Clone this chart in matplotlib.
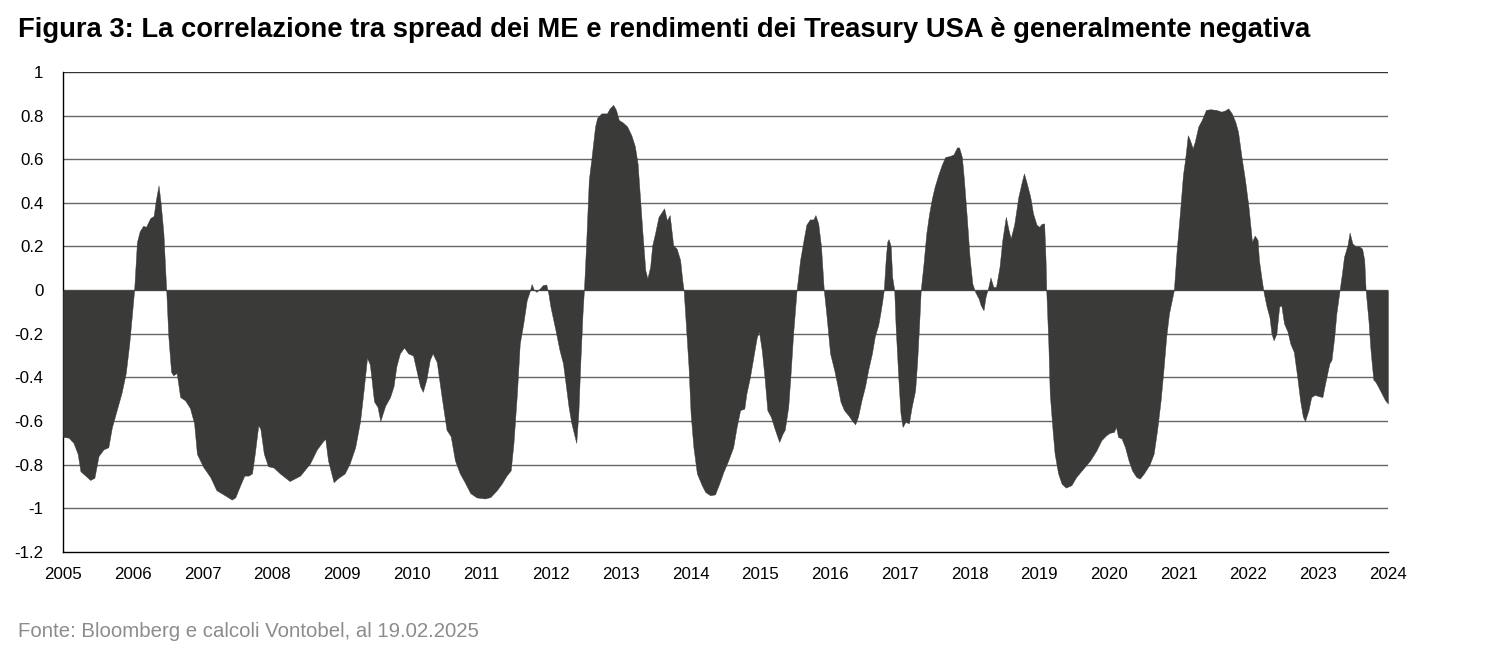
import matplotlib
matplotlib.use('Agg')
import matplotlib.pyplot as plt
import numpy as np

# ── Data ────────────────────────────────────────────────────────────────────
years = [
    2005.00, 2005.08, 2005.15, 2005.21, 2005.25, 2005.32, 2005.39, 2005.45, 2005.51, 2005.58,
    2005.65, 2005.70, 2005.77, 2005.84, 2005.90, 2005.95, 2005.99, 2006.02, 2006.06, 2006.10,
    2006.15, 2006.19, 2006.25, 2006.30, 2006.33, 2006.37, 2006.40, 2006.44, 2006.48, 2006.51,
    2006.55, 2006.58, 2006.63, 2006.68, 2006.75, 2006.82, 2006.88, 2006.92, 2007.01, 2007.11,
    2007.20, 2007.32, 2007.42, 2007.47, 2007.54, 2007.60, 2007.66, 2007.71, 2007.75, 2007.80,
    2007.83, 2007.88, 2007.94, 2008.02, 2008.11, 2008.25, 2008.40, 2008.54, 2008.64, 2008.71,
    2008.76, 2008.80, 2008.88, 2008.95, 2009.04, 2009.11, 2009.19, 2009.26, 2009.31, 2009.36,
    2009.40, 2009.46, 2009.51, 2009.55, 2009.62, 2009.69, 2009.74, 2009.78, 2009.83, 2009.89,
    2009.95, 2010.02, 2010.07, 2010.12, 2010.16, 2010.21, 2010.26, 2010.30, 2010.36, 2010.43,
    2010.50, 2010.56, 2010.62, 2010.69, 2010.76, 2010.84, 2010.93, 2011.05, 2011.13, 2011.22,
    2011.29, 2011.36, 2011.42, 2011.46, 2011.51, 2011.55, 2011.60, 2011.65, 2011.69, 2011.72,
    2011.75, 2011.79, 2011.84, 2011.88, 2011.93, 2011.96, 2011.99, 2012.06, 2012.12, 2012.17,
    2012.20, 2012.25, 2012.29, 2012.36, 2012.39, 2012.42, 2012.45, 2012.47, 2012.50, 2012.54,
    2012.58, 2012.63, 2012.66, 2012.72, 2012.80, 2012.84, 2012.89, 2012.93, 2012.97, 2013.03,
    2013.09, 2013.15, 2013.20, 2013.24, 2013.27, 2013.31, 2013.35, 2013.38, 2013.42, 2013.45,
    2013.49, 2013.54, 2013.59, 2013.62, 2013.66, 2013.70, 2013.75, 2013.80, 2013.85, 2013.88,
    2013.90, 2013.94, 2013.97, 2014.00, 2014.04, 2014.09, 2014.16, 2014.21, 2014.28, 2014.35,
    2014.41, 2014.47, 2014.54, 2014.61, 2014.66, 2014.71, 2014.77, 2014.80, 2014.85, 2014.90,
    2014.95, 2014.98, 2015.02, 2015.06, 2015.10, 2015.15, 2015.21, 2015.27, 2015.32, 2015.35,
    2015.40, 2015.43, 2015.47, 2015.52, 2015.57, 2015.62, 2015.66, 2015.71, 2015.76, 2015.79,
    2015.83, 2015.87, 2015.91, 2015.95, 2016.00, 2016.06, 2016.10, 2016.15, 2016.20, 2016.26,
    2016.31, 2016.36, 2016.40, 2016.45, 2016.50, 2016.55, 2016.60, 2016.64, 2016.69, 2016.72,
    2016.75, 2016.77, 2016.80, 2016.82, 2016.84, 2016.87, 2016.89, 2016.92, 2016.94, 2016.98,
    2017.01, 2017.04, 2017.08, 2017.13, 2017.17, 2017.22, 2017.25, 2017.28, 2017.30, 2017.34,
    2017.38, 2017.42, 2017.46, 2017.50, 2017.55, 2017.60, 2017.65, 2017.72, 2017.77, 2017.82,
    2017.85, 2017.89, 2017.92, 2017.96, 2018.00, 2018.04, 2018.08, 2018.13, 2018.16, 2018.20,
    2018.23, 2018.27, 2018.30, 2018.34, 2018.38, 2018.43, 2018.47, 2018.52, 2018.56, 2018.59,
    2018.64, 2018.70, 2018.75, 2018.78, 2018.82, 2018.87, 2018.91, 2018.96, 2019.00, 2019.03,
    2019.07, 2019.09, 2019.10, 2019.13, 2019.15, 2019.19, 2019.22, 2019.27, 2019.32, 2019.38,
    2019.46, 2019.53, 2019.63, 2019.73, 2019.82, 2019.89, 2019.96, 2020.01, 2020.07, 2020.10,
    2020.13, 2020.18, 2020.23, 2020.28, 2020.33, 2020.39, 2020.44, 2020.50, 2020.58, 2020.64,
    2020.69, 2020.74, 2020.78, 2020.82, 2020.86, 2020.90, 2020.93, 2020.97, 2021.02, 2021.06,
    2021.09, 2021.13, 2021.16, 2021.20, 2021.23, 2021.28, 2021.33, 2021.39, 2021.45, 2021.54,
    2021.61, 2021.66, 2021.71, 2021.76, 2021.81, 2021.85, 2021.90, 2021.95, 2022.00, 2022.05,
    2022.09, 2022.13, 2022.15, 2022.19, 2022.22, 2022.26, 2022.30, 2022.33, 2022.36, 2022.40,
    2022.44, 2022.47, 2022.51, 2022.56, 2022.60, 2022.65, 2022.70, 2022.74, 2022.78, 2022.81,
    2022.86, 2022.90, 2022.95, 2023.01, 2023.06, 2023.11, 2023.16, 2023.19, 2023.23, 2023.26,
    2023.30, 2023.34, 2023.37, 2023.42, 2023.45, 2023.49, 2023.54, 2023.59, 2023.63, 2023.66,
    2023.68, 2023.72, 2023.75, 2023.79, 2023.82, 2023.86, 2023.91, 2023.96, 2024.00,
]

corr = [
    -0.673, -0.676, -0.70, -0.75, -0.83, -0.85, -0.87, -0.86, -0.76, -0.73,
    -0.72, -0.63, -0.55, -0.47, -0.38, -0.245, -0.107, 0.0, 0.22, 0.27,
    0.295, 0.29, 0.33, 0.34, 0.41, 0.48, 0.40, 0.26, 0.0, -0.21,
    -0.375, -0.39, -0.38, -0.49, -0.505, -0.54, -0.61, -0.75, -0.81, -0.856,
    -0.917, -0.94, -0.96, -0.95, -0.895, -0.85, -0.85, -0.84, -0.75, -0.62,
    -0.635, -0.75, -0.807, -0.813, -0.84, -0.875, -0.85, -0.795, -0.73, -0.70,
    -0.68, -0.78, -0.88, -0.86, -0.84, -0.795, -0.72, -0.60, -0.46, -0.31,
    -0.34, -0.51, -0.535, -0.60, -0.53, -0.49, -0.44, -0.35, -0.29, -0.263,
    -0.29, -0.30, -0.37, -0.44, -0.466, -0.41, -0.32, -0.29, -0.33, -0.49,
    -0.64, -0.67, -0.78, -0.84, -0.88, -0.93, -0.95, -0.955, -0.948, -0.917,
    -0.887, -0.85, -0.826, -0.70, -0.47, -0.245, -0.153, -0.046, -0.008, 0.028,
    0.003, -0.008, 0.008, 0.023, 0.026, -0.015, -0.076, -0.18, -0.275, -0.336,
    -0.41, -0.535, -0.61, -0.70, -0.566, -0.32, -0.107, 0.0, 0.20, 0.505,
    0.61, 0.75, 0.79, 0.81, 0.81, 0.833, 0.849, 0.826, 0.78, 0.768,
    0.75, 0.71, 0.66, 0.58, 0.443, 0.26, 0.092, 0.054, 0.107, 0.206,
    0.26, 0.336, 0.36, 0.375, 0.32, 0.344, 0.206, 0.19, 0.138, 0.046,
    0.0, -0.20, -0.35, -0.566, -0.72, -0.84, -0.894, -0.925, -0.94, -0.936,
    -0.887, -0.833, -0.78, -0.72, -0.627, -0.55, -0.543, -0.474, -0.40, -0.306,
    -0.214, -0.19, -0.275, -0.40, -0.55, -0.58, -0.64, -0.696, -0.657, -0.64,
    -0.535, -0.40, -0.20, 0.0, 0.138, 0.23, 0.30, 0.324, 0.324, 0.344,
    0.306, 0.20, 0.0, -0.122, -0.29, -0.367, -0.428, -0.512, -0.55, -0.573,
    -0.596, -0.615, -0.58, -0.505, -0.443, -0.36, -0.29, -0.214, -0.16, -0.107,
    -0.046, 0.0, 0.153, 0.222, 0.234, 0.20, 0.061, 0.0, -0.168, -0.41,
    -0.566, -0.627, -0.604, -0.61, -0.535, -0.459, -0.32, -0.138, 0.0, 0.122,
    0.26, 0.35, 0.42, 0.474, 0.527, 0.573, 0.61, 0.615, 0.622, 0.654,
    0.654, 0.61, 0.505, 0.336, 0.153, 0.03, -0.008, -0.038, -0.069, -0.092,
    -0.03, 0.015, 0.058, 0.015, 0.015, 0.107, 0.23, 0.336, 0.275, 0.237,
    0.30, 0.428, 0.497, 0.535, 0.49, 0.428, 0.352, 0.30, 0.29, 0.303,
    0.306, 0.138, 0.0, -0.245, -0.474, -0.64, -0.75, -0.84, -0.887, -0.905,
    -0.894, -0.856, -0.818, -0.78, -0.734, -0.688, -0.665, -0.654, -0.65, -0.627,
    -0.673, -0.68, -0.72, -0.78, -0.826, -0.856, -0.864, -0.84, -0.80, -0.75,
    -0.64, -0.505, -0.367, -0.214, -0.107, -0.046, 0.0, 0.183, 0.367, 0.528,
    0.596, 0.71, 0.688, 0.65, 0.68, 0.75, 0.78, 0.826, 0.829, 0.826,
    0.818, 0.823, 0.833, 0.81, 0.772, 0.726, 0.61, 0.505, 0.382, 0.222,
    0.25, 0.23, 0.138, 0.046, -0.015, -0.076, -0.122, -0.20, -0.23, -0.20,
    -0.076, -0.069, -0.153, -0.19, -0.245, -0.283, -0.40, -0.505, -0.58, -0.60,
    -0.55, -0.49, -0.48, -0.486, -0.49, -0.41, -0.336, -0.32, -0.214, -0.107,
    -0.015, 0.076, 0.153, 0.206, 0.264, 0.214, 0.20, 0.20, 0.19, 0.138,
    0.0, -0.138, -0.275, -0.41, -0.42, -0.443, -0.474, -0.505, -0.52,
]

x_ticks = list(range(2005, 2025))
y_ticks = [1, 0.8, 0.6, 0.4, 0.2, 0, -0.2, -0.4, -0.6, -0.8, -1, -1.2]
y_labels = ["1", "0.8", "0.6", "0.4", "0.2", "0", "-0.2", "-0.4", "-0.6", "-0.8", "-1", "-1.2"]

TITLE = "Figura 3: La correlazione tra spread dei ME e rendimenti dei Treasury USA è generalmente negativa"
SOURCE = "Fonte: Bloomberg e calcoli Vontobel, al 19.02.2025"

# ── Style ──────────────────────────────────────────────────────────────────
FILL_C = "#3a3b39"
GRID_C = "#666666"

plt.rcParams.update({
    "font.family": ["Liberation Sans", "DejaVu Sans"],
    "font.size": 12,
})

fig = plt.figure(figsize=(15, 6.54), dpi=100)
ax = fig.add_axes([0.042, 0.156, 0.8833, 0.734])

ax.fill_between(years, corr, 0, color=FILL_C, lw=0.3, edgecolor=FILL_C, zorder=3)

ax.set_xlim(2005, 2024)
ax.set_ylim(-1.2, 1)
ax.set_xticks(x_ticks)
ax.set_xticklabels([str(y) for y in x_ticks])
ax.set_yticks(y_ticks)
ax.set_yticklabels(y_labels)
ax.tick_params(axis='both', length=0, labelsize=12.2, colors='black')
ax.tick_params(axis='y', pad=14)
ax.tick_params(axis='x', pad=11)

for v in y_ticks[:-1]:
    ax.axhline(v, color=GRID_C if v != 1 else "#333333", lw=1.0, zorder=1)

ax.spines['right'].set_visible(False)
ax.spines['top'].set_visible(False)
ax.spines['left'].set_color('black')
ax.spines['bottom'].set_color('black')
ax.spines['left'].set_linewidth(1.0)
ax.spines['bottom'].set_linewidth(1.0)

fig.text(0.012, 0.943, TITLE, fontsize=19.75, fontweight='bold', ha='left', va='baseline')
fig.text(0.012, 0.026, SOURCE, fontsize=14.7, color='#8c8c8c', ha='left', va='baseline')

fig.savefig("out.png", dpi=100, facecolor='white')
